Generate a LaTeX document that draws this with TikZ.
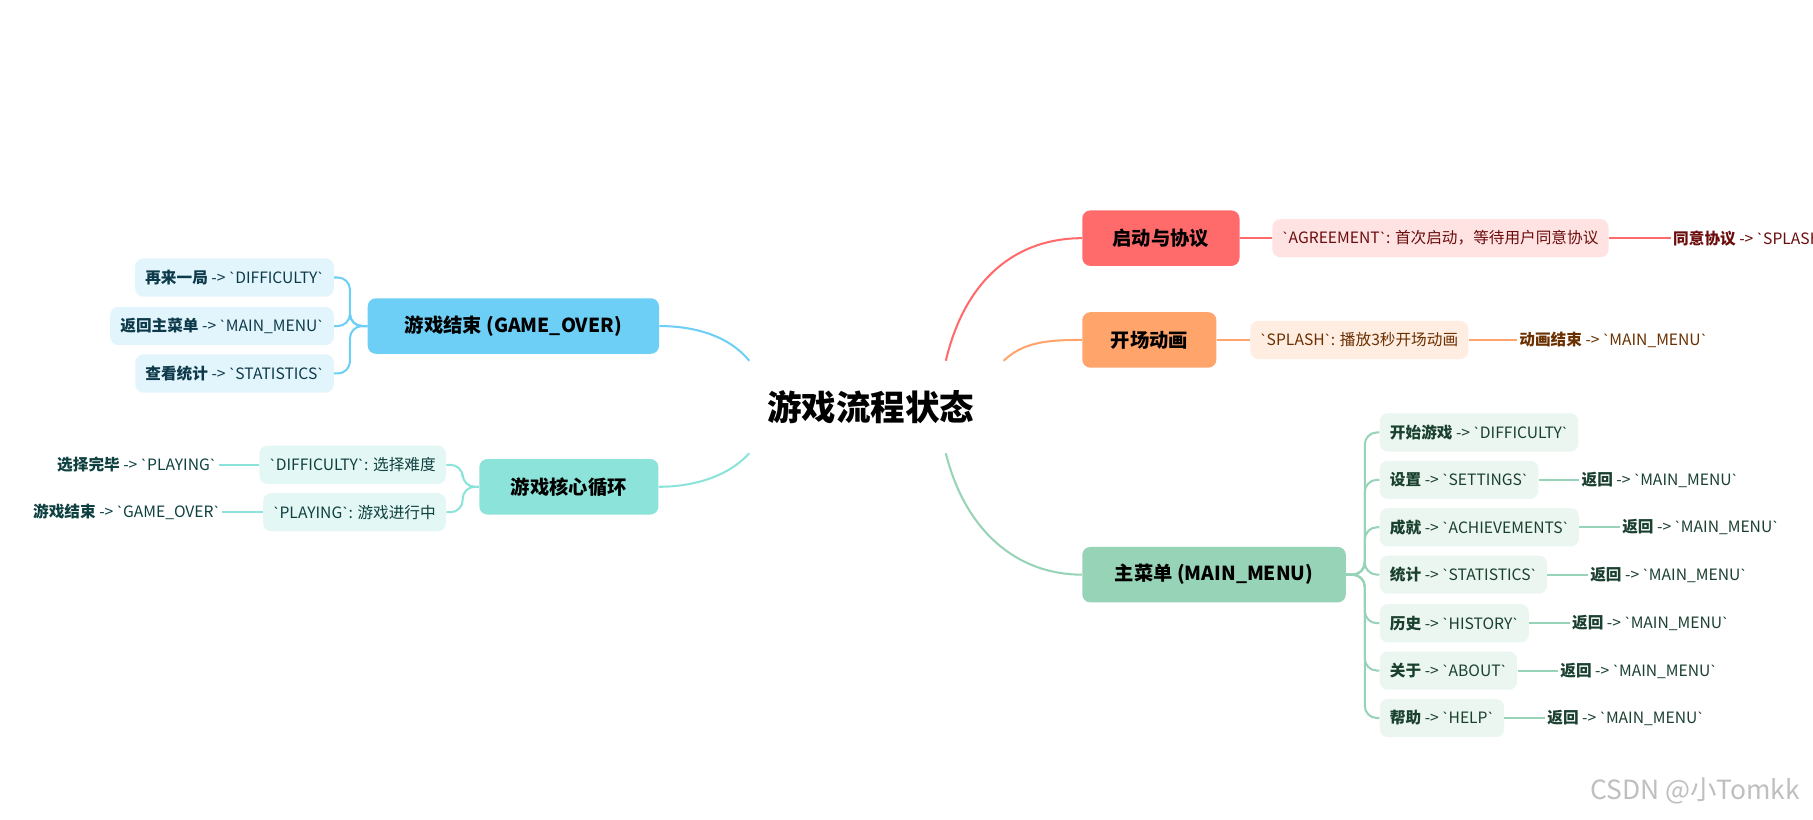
\documentclass[tikz,border=0pt]{standalone}
\usepackage{fontspec}
\setmainfont{Noto Sans CJK SC}
\newfontfamily\latinbq{Lato}
\newcommand\bq{{\latinbq\char"60}}
\begin{document}
\begin{tikzpicture}[x=0.02cm,y=-0.02cm,
  mainbox/.style={rounded corners=4pt,minimum height=0.96cm,inner xsep=6pt,font=\fontsize{9.5}{11}\selectfont\bfseries,text=black},
  leaf/.style={rounded corners=4pt,minimum height=0.66cm,inner xsep=5pt,font=\fontsize{7.7}{9}\selectfont},
  txt/.style={inner sep=1pt,font=\fontsize{7.7}{9}\selectfont},
  ln/.style={line width=1pt}]
\definecolor{cr}{HTML}{FF6B6B}\definecolor{co}{HTML}{FFA46B}\definecolor{cg}{HTML}{97D3B6}
\definecolor{cb}{HTML}{6ECFF6}\definecolor{ct}{HTML}{8CE3D9}
\definecolor{fr}{HTML}{FFE3E3}\definecolor{fo}{HTML}{FFEDE2}\definecolor{fg}{HTML}{EAF6EF}
\definecolor{fb}{HTML}{E2F5FD}\definecolor{ft}{HTML}{E3F8F5}
\definecolor{tr}{HTML}{6B0D0D}\definecolor{to}{HTML}{6B3000}\definecolor{tg}{HTML}{1A4030}
\definecolor{tb}{HTML}{0D3A4A}\definecolor{tt}{HTML}{0F4040}
\clip (0,0) rectangle (1568,709);
\fill[white] (0,0) rectangle (1568,709);
\node[font=\fontsize{17}{20}\selectfont\bfseries] (title) at (753,352) {游戏流程状态};
\coordinate (sr) at (818,312);\coordinate (so) at (868,312);\coordinate (sg) at (818,392);
\coordinate (sb) at (648,312);\coordinate (st) at (648,392);
\node[mainbox,fill=cr,minimum width=2.72cm] (r) at (1004,206) {启动与协议};
\node[mainbox,fill=co,minimum width=2.32cm] (o) at (994,294) {开场动画};
\node[mainbox,fill=cg,minimum width=4.56cm] (g) at (1050,497) {主菜单 (MAIN\_MENU)};
\node[mainbox,fill=cb,minimum width=5.04cm] (b) at (444,282) {游戏结束 (GAME\_OVER)};
\node[mainbox,fill=ct,minimum width=3.1cm] (t) at (492,421) {游戏核心循环};
\draw[ln,cr] (sr) .. controls (835,240) and (880,206) .. (r.west);
\draw[ln,co] (so) .. controls (885,296) and (905,294) .. (o.west);
\draw[ln,cg] (sg) .. controls (835,460) and (880,497) .. (g.west);
\draw[ln,cb] (sb) .. controls (630,290) and (600,282) .. (b.east);
\draw[ln,ct] (st) .. controls (630,412) and (600,421) .. (t.east);
\node[leaf,fill=fr,text=tr,anchor=west] (r1) at (1100,206) {\bq AGREEMENT\bq: 首次启动，等待用户同意协议};
\node[txt,text=tr,anchor=west] (r2) at (1445,206) {\textbf{同意协议} -> \bq SPLASH\bq};
\draw[ln,cr] (r.east) -- (r1.west); \draw[ln,cr] (r1.east) -- (r2.west);
\node[leaf,fill=fo,text=to,anchor=west] (o1) at (1081,294) {\bq SPLASH\bq: 播放3秒开场动画};
\node[txt,text=to,anchor=west] (o2) at (1312,294) {\textbf{动画结束} -> \bq MAIN\_MENU\bq};
\draw[ln,co] (o.east) -- (o1.west); \draw[ln,co] (o1.east) -- (o2.west);
\foreach \n/\y/\a/\b in {g1/374/开始游戏/DIFFICULTY,g2/415/设置/SETTINGS,g3/456/成就/ACHIEVEMENTS,g4/497/统计/STATISTICS,g5/539/历史/HISTORY,g6/580/关于/ABOUT,g7/621/帮助/HELP}{
  \node[leaf,fill=fg,text=tg,anchor=west] (\n) at (1193,\y) {\textbf{\a} -> \bq\b\bq};
  \draw[ln,cg,rounded corners=6pt] (g.east) -- ++(16,0) |- (\n.west);}
\foreach \n in {g2,g3,g4,g5,g6,g7}{
  \node[txt,text=tg,anchor=west] (\n r) at ([xshift=0.7cm]\n.east) {\textbf{返回} -> \bq MAIN\_MENU\bq};
  \draw[ln,cg] (\n.east) -- (\n r.west);}
\foreach \n/\y/\a/\b in {b1/240/再来一局/DIFFICULTY,b2/282/返回主菜单/MAIN\_MENU,b3/323/查看统计/STATISTICS}{
  \node[leaf,fill=fb,text=tb,anchor=east] (\n) at (289,\y) {\textbf{\a} -> \bq\b\bq};
  \draw[ln,cb,rounded corners=6pt] (b.west) -- ++(-15,0) |- (\n.east);}
\node[leaf,fill=ft,text=tt,anchor=east] (t1) at (386,402) {\bq DIFFICULTY\bq: 选择难度};
\node[leaf,fill=ft,text=tt,anchor=east] (t2) at (386,443) {\bq PLAYING\bq: 游戏进行中};
\draw[ln,ct,rounded corners=6pt] (t.west) -- ++(-14,0) |- (t1.east);
\draw[ln,ct,rounded corners=6pt] (t.west) -- ++(-14,0) |- (t2.east);
\node[txt,text=tt,anchor=east] (t1r) at ([xshift=-0.7cm]t1.west) {\textbf{选择完毕} -> \bq PLAYING\bq};
\node[txt,text=tt,anchor=east] (t2r) at ([xshift=-0.7cm]t2.west) {\textbf{游戏结束} -> \bq GAME\_OVER\bq};
\draw[ln,ct] (t1.west) -- (t1r.east); \draw[ln,ct] (t2.west) -- (t2r.east);
\node[font=\fontsize{13}{15}\selectfont,text=black!25,anchor=east] (wm) at (1563,684) {CSDN @小Tomkk};
\end{tikzpicture}
\end{document}
